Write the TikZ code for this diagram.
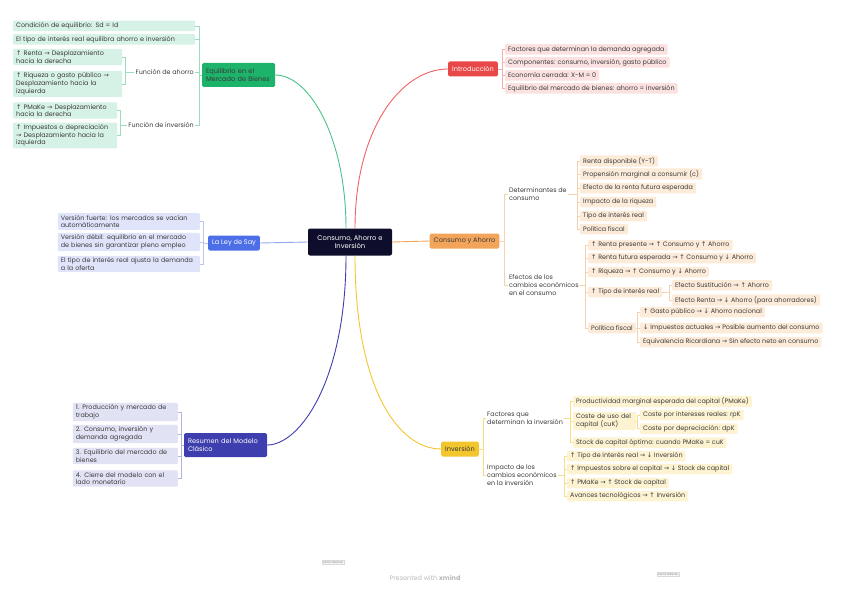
\documentclass[tikz,border=0pt]{standalone}
\usepackage{fontspec}
\setmainfont{Poppins}
\newfontfamily\symf{DejaVu Sans}
\usepackage{xcolor}
\usepackage{tikz}
\usetikzlibrary{positioning,calc}

\newcommand\upar{{\symf ↑}}
\newcommand\dnar{{\symf ↓}}
\newcommand\rar{{\symf →}}

\definecolor{rootc}{HTML}{0E0E2C}
\definecolor{txt}{HTML}{3A3A3A}
\definecolor{greenc}{HTML}{1DB36B}
\definecolor{greenl}{HTML}{D6F1E5}
\definecolor{redc}{HTML}{E94848}
\definecolor{redl}{HTML}{FCE1E1}
\definecolor{orangec}{HTML}{F2A45A}
\definecolor{orangel}{HTML}{FDEBDA}
\definecolor{bluec}{HTML}{4C6EE6}
\definecolor{bluel}{HTML}{DFE4FA}
\definecolor{indigoc}{HTML}{3E3EAE}
\definecolor{indigol}{HTML}{E2E2F5}
\definecolor{yellowc}{HTML}{F3C62E}
\definecolor{yellowl}{HTML}{FDF3D2}

\begin{document}
\begin{tikzpicture}[
    x=1pt, y=-1pt,
    font=\fontsize{6.4}{7.8}\selectfont,
    root/.style={rectangle, rounded corners=2pt, fill=rootc, text=white, minimum width=84pt, minimum height=27pt, align=center, font=\fontsize{6.8}{8}\selectfont},
    topic/.style={rectangle, rounded corners=1.5pt, fill=#1, minimum height=15pt, inner xsep=4pt, font=\fontsize{6.6}{8}\selectfont},
    subtopic/.style={rectangle, rounded corners=1pt, fill=#1, text=txt, inner xsep=3pt, inner ysep=1.8pt, minimum height=10.5pt, align=left, anchor=west},
    branchtxt/.style={text=txt, inner sep=1pt, align=left},
    mainline/.style={line width=0.9pt, draw=#1},
    subline/.style={line width=0.5pt, draw=#1}
]
    \useasboundingbox (0,0) rectangle (848,599);

    \node[root] (cai) at (350,242) {Consumo, Ahorro e\\Inversión};

    \node[topic=greenc, text=txt, text width=65pt, align=left, minimum height=24pt] (eqb) at (238.5,75) {Equilibrio en el\\Mercado de Bienes};
    \node[topic=redc, text=white] (intro) at (473,69) {Introducción};
    \node[topic=orangec, text=txt] (cya) at (464.5,241) {Consumo y Ahorro};
    \node[topic=bluec, text=white] (say) at (234,243) {La Ley de Say};
    \node[topic=indigoc, text=white, text width=75pt, align=left, minimum height=24pt] (res) at (225.5,445) {Resumen del Modelo\\Clásico};
    \node[topic=yellowc, text=txt] (inv) at (460,449) {Inversión};

    \draw[mainline=greenc!80] ([xshift=-4pt]cai.north) .. controls +(0,-89) and +(35,0) .. (eqb.east);
    \draw[mainline=redc!85] ([xshift=5pt]cai.north) .. controls +(0,-99) and +(-47,0) .. (intro.west);
    \draw[mainline=bluec!60] (cai.west) -- (say.east);
    \draw[mainline=orangec] (cai.east) -- (cya.west);
    \draw[mainline=indigoc] ([xshift=-4pt]cai.south) .. controls +(0,124) and +(33,0) .. (res.east);
    \draw[mainline=yellowc] ([xshift=5pt]cai.south) .. controls +(0,134) and +(-42,0) .. (inv.west);

    \node[subtopic=greenl, text width=176pt] (g1) at (13,26) {Condición de equilibrio: Sd = Id};
    \node[subtopic=greenl, text width=176pt] (g2) at (13,39.5) {El tipo de interés real equilibra ahorro e inversión};
    \node[branchtxt, anchor=east] (gah) at (195,72) {Función de ahorro};
    \node[subtopic=greenl, text width=103pt] (ga1) at (13,57) {\upar{} Renta \rar{} Desplazamiento\\hacia la derecha};
    \node[subtopic=greenl, text width=103pt] (ga2) at (13,84) {\upar{} Riqueza o gasto público \rar\\Desplazamiento hacia la\\izquierda};
    \node[branchtxt, anchor=east] (gin) at (195,125) {Función de inversión};
    \node[subtopic=greenl, text width=98pt] (gi1) at (13,110.5) {\upar{} PMaKe \rar{} Desplazamiento\\hacia la derecha};
    \node[subtopic=greenl, text width=98pt] (gi2) at (13,135.5) {\upar{} Impuestos o depreciación\\\rar{} Desplazamiento hacia la\\izquierda};

    \foreach \c in {g1,g2,gah,gin}
        \draw[subline=greenc!45] (eqb.west) -- ([xshift=3.5pt]g1.east |- eqb.west) |- (\c.east);
    \foreach \c in {ga1,ga2}
        \draw[subline=greenc!45] (gah.west) -- ([xshift=3pt]ga1.east |- gah.west) |- (\c.east);
    \foreach \c in {gi1,gi2}
        \draw[subline=greenc!45] (gin.west) -- ([xshift=3pt]gi1.east |- gin.west) |- (\c.east);

    \node[subtopic=redl] (r1) at (505,49.5) {Factores que determinan la demanda agregada};
    \node[subtopic=redl] (r2) at (505,62.5) {Componentes: consumo, inversión, gasto público};
    \node[subtopic=redl] (r3) at (505,75.5) {Economía cerrada: X-M = 0};
    \node[subtopic=redl] (r4) at (505,88.5) {Equilibrio del mercado de bienes: ahorro = inversión};
    \foreach \i in {1,...,4}
        \draw[subline=redc!45] (intro.east) -- ([xshift=-3pt]r1.west |- intro.east) |- (r\i.west);

    \node[branchtxt, anchor=west] (det) at (508,194) {Determinantes de\\consumo};
    \node[branchtxt, anchor=west] (efe) at (508,285) {Efectos de los\\cambios económicos\\en el consumo};
    \foreach \c in {det,efe}
        \draw[subline=orangec!50] (cya.east) -- ([xshift=-4pt]det.west |- cya.east) |- (\c.west);

    \node[subtopic=orangel] (d1) at (580,161) {Renta disponible (Y-T)};
    \node[subtopic=orangel] (d2) at (580,174) {Propensión marginal a consumir (c)};
    \node[subtopic=orangel] (d3) at (580,188) {Efecto de la renta futura esperada};
    \node[subtopic=orangel] (d4) at (580,202) {Impacto de la riqueza};
    \node[subtopic=orangel] (d5) at (580,216) {Tipo de interés real};
    \node[subtopic=orangel] (d6) at (580,229) {Política fiscal};
    \foreach \i in {1,...,6}
        \draw[subline=orangec!50] (det.east) -- ([xshift=-3pt]d1.west |- det.east) |- (d\i.west);

    \node[subtopic=orangel] (e1) at (588,245) {\upar{} Renta presente \rar{} \upar{} Consumo y \upar{} Ahorro};
    \node[subtopic=orangel] (e2) at (588,258) {\upar{} Renta futura esperada \rar{} \upar{} Consumo y \dnar{} Ahorro};
    \node[subtopic=orangel] (e3) at (588,272) {\upar{} Riqueza \rar{} \upar{} Consumo y \dnar{} Ahorro};
    \node[subtopic=orangel] (e4) at (588,292) {\upar{} Tipo de interés real};
    \node[subtopic=orangel] (e5) at (588,328) {Política fiscal};
    \foreach \i in {1,...,5}
        \draw[subline=orangec!50] (efe.east) -- ([xshift=-3pt]e1.west |- efe.east) |- (e\i.west);

    \node[subtopic=orangel] (e4a) at (672,285) {Efecto Sustitución \rar{} \upar{} Ahorro};
    \node[subtopic=orangel] (e4b) at (672,300) {Efecto Renta \rar{} \dnar{} Ahorro (para ahorradores)};
    \foreach \c in {e4a,e4b}
        \draw[subline=orangec!50] (e4.east) -- ([xshift=-3pt]e4a.west |- e4.east) |- (\c.west);

    \node[subtopic=orangel] (e5a) at (640,312) {\upar{} Gasto público \rar{} \dnar{} Ahorro nacional};
    \node[subtopic=orangel] (e5b) at (640,328) {\dnar{} Impuestos actuales \rar{} Posible aumento del consumo};
    \node[subtopic=orangel] (e5c) at (640,342) {Equivalencia Ricardiana \rar{} Sin efecto neto en consumo};
    \foreach \c in {e5a,e5b,e5c}
        \draw[subline=orangec!50] (e5.east) -- ([xshift=-3pt]e5a.west |- e5.east) |- (\c.west);

    \node[subtopic=bluel, anchor=east, text width=136pt] (b1) at (200,221.5) {Versión fuerte: los mercados se vacían\\automáticamente};
    \node[subtopic=bluel, anchor=east, text width=136pt] (b2) at (200,242) {Versión débil: equilibrio en el mercado\\de bienes sin garantizar pleno empleo};
    \node[subtopic=bluel, anchor=east, text width=136pt] (b3) at (200,264) {El tipo de interés real ajusta la demanda\\a la oferta};
    \foreach \i in {1,...,3}
        \draw[subline=bluec!40] (say.west) -- ([xshift=3pt]b1.east |- say.west) |- (b\i.east);

    \node[subtopic=indigol, anchor=east, text width=99pt] (s1) at (178,412) {1. Producción y mercado de\\trabajo};
    \node[subtopic=indigol, anchor=east, text width=99pt] (s2) at (178,434) {2. Consumo, inversión y\\demanda agregada};
    \node[subtopic=indigol, anchor=east, text width=99pt] (s3) at (178,456) {3. Equilibrio del mercado de\\bienes};
    \node[subtopic=indigol, anchor=east, text width=99pt] (s4) at (178,478.5) {4. Cierre del modelo con el\\lado monetario};
    \foreach \i in {1,...,4}
        \draw[subline=indigoc!40] (res.west) -- ([xshift=3pt]s1.east |- res.west) |- (s\i.east);

    \node[branchtxt, anchor=west] (fac) at (486,418) {Factores que\\determinan la inversión};
    \node[branchtxt, anchor=west] (imp) at (486,475) {Impacto de los\\cambios económicos\\en la inversión};
    \foreach \c in {fac,imp}
        \draw[subline=yellowc!60] (inv.east) -- ([xshift=-3pt]fac.west |- inv.east) |- (\c.west);

    \node[subtopic=yellowl] (f1) at (573,401.5) {Productividad marginal esperada del capital (PMaKe)};
    \node[subtopic=yellowl, text width=57pt] (f2) at (573,421) {Coste de uso del\\capital (cuK)};
    \node[subtopic=yellowl] (f3) at (573,442.5) {Stock de capital óptimo: cuando PMaKe = cuK};
    \foreach \i in {1,...,3}
        \draw[subline=yellowc!60] (fac.east) -- ([xshift=-3pt]f1.west |- fac.east) |- (f\i.west);

    \node[subtopic=yellowl] (f2a) at (640,415) {Coste por intereses reales: rpK};
    \node[subtopic=yellowl] (f2b) at (640,428.5) {Coste por depreciación: dpK};
    \foreach \c in {f2a,f2b}
        \draw[subline=yellowc!60] (f2.east) -- ([xshift=-3pt]f2a.west |- f2.east) |- (\c.west);

    \node[subtopic=yellowl] (i1) at (567,456) {\upar{} Tipo de interés real \rar{} \dnar{} Inversión};
    \node[subtopic=yellowl] (i2) at (567,469) {\upar{} Impuestos sobre el capital \rar{} \dnar{} Stock de capital};
    \node[subtopic=yellowl] (i3) at (567,483) {\upar{} PMaKe \rar{} \upar{} Stock de capital};
    \node[subtopic=yellowl] (i4) at (567,496) {Avances tecnológicos \rar{} \upar{} Inversión};
    \foreach \i in {1,...,4}
        \draw[subline=yellowc!60] (imp.east) -- ([xshift=-3pt]i1.west |- imp.east) |- (i\i.west);

    \node[draw=gray!30, fill=gray!8, text=gray, inner sep=1.2pt, font=\fontsize{2.8}{3}\selectfont] (fl1) at (333,562) {Tema flotante};
    \node[draw=gray!30, fill=gray!8, text=gray, inner sep=1.2pt, font=\fontsize{2.8}{3}\selectfont] (fl2) at (668,574) {Tema flotante};
    \node[text=gray!55, font=\fontsize{6.5}{8}\selectfont] (credit) at (425,578) {Presented with \textbf{xmind}};
\end{tikzpicture}
\end{document}
